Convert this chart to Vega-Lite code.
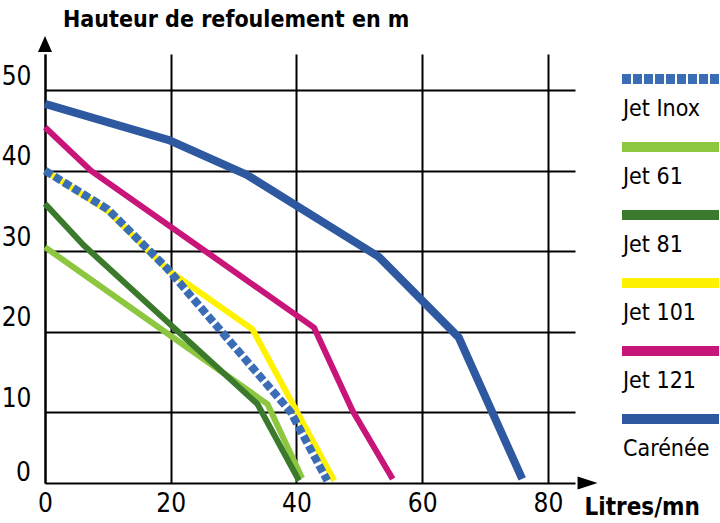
{
  "$schema": "https://vega.github.io/schema/vega-lite/v6.json",
  "background": "white",
  "padding": {"left": 1, "top": 9, "right": 2, "bottom": 0},
  "config": {
    "view": {"stroke": null},
    "font": "DejaVu Sans Condensed, sans-serif"
  },
  "title": {
    "text": "Hauteur de refoulement en m",
    "anchor": "start",
    "frame": "group",
    "dx": 18,
    "fontSize": 23,
    "fontWeight": "bold",
    "color": "black",
    "font": "DejaVu Sans Condensed, sans-serif"
  },
  "datasets": {
    "curves": [
      {"s": "Jet 61", "x": 0, "y": 30.5},
      {"s": "Jet 61", "x": 35.4, "y": 11.0},
      {"s": "Jet 61", "x": 40.9, "y": 1.8},
      {"s": "Jet 81", "x": 0, "y": 35.9},
      {"s": "Jet 81", "x": 6.2, "y": 30.7},
      {"s": "Jet 81", "x": 33.8, "y": 11.0},
      {"s": "Jet 81", "x": 40.4, "y": 1.5},
      {"s": "Jet 121", "x": 0, "y": 45.4},
      {"s": "Jet 121", "x": 7.3, "y": 40.0},
      {"s": "Jet 121", "x": 42.8, "y": 20.5},
      {"s": "Jet 121", "x": 48.9, "y": 10.2},
      {"s": "Jet 121", "x": 55.3, "y": 1.7},
      {"s": "Carénée", "x": 0, "y": 48.3},
      {"s": "Carénée", "x": 19.7, "y": 43.8},
      {"s": "Carénée", "x": 32.1, "y": 39.5},
      {"s": "Carénée", "x": 53.1, "y": 29.3},
      {"s": "Carénée", "x": 65.8, "y": 19.3},
      {"s": "Carénée", "x": 75.9, "y": 1.7},
      {"s": "Jet 101", "x": 0, "y": 40.0},
      {"s": "Jet 101", "x": 10, "y": 35.0},
      {"s": "Jet 101", "x": 19.5, "y": 27.7},
      {"s": "Jet 101", "x": 33.0, "y": 20.3},
      {"s": "Jet 101", "x": 46.0, "y": 1.5},
      {"s": "Jet Inox", "x": 0, "y": 40.0},
      {"s": "Jet Inox", "x": 10, "y": 35.2},
      {"s": "Jet Inox", "x": 19.5, "y": 27.8},
      {"s": "Jet Inox", "x": 39.1, "y": 10.0},
      {"s": "Jet Inox", "x": 44.9, "y": 1.5}
    ],
    "series": [
      {"s": "Jet Inox"},
      {"s": "Jet 61"},
      {"s": "Jet 81"},
      {"s": "Jet 101"},
      {"s": "Jet 121"},
      {"s": "Carénée"}
    ]
  },
  "bounds": "flush",
  "spacing": 47,
  "resolve": {"scale": {"x": "independent", "y": "independent"}},
  "hconcat": [
    {
      "width": 530,
      "height": 429,
      "data": {"name": "curves"},
      "layer": [
        {
          "transform": [{"filter": {"field": "s", "oneOf": ["Jet 61", "Jet 81", "Jet 121"]}}],
          "mark": {"type": "line", "strokeWidth": 6, "strokeJoin": "miter", "strokeCap": "butt"},
          "encoding": {
            "x": {
              "field": "x", "type": "quantitative",
              "scale": {"domain": [0, 84.3], "nice": false, "zero": false},
              "axis": {
                "values": [0, 20, 40, 60, 80],
                "grid": true, "gridColor": "black", "gridWidth": 2, "gridOpacity": 1,
                "domainColor": "black", "domainWidth": 2,
                "ticks": false,
                "labelFontSize": 26, "labelColor": "black", "labelPadding": 7,
                "labelFlush": false, "labelOverlap": false,
                "title": "Litres/mn",
                "titleFontSize": 24, "titleFontWeight": "bold", "titleColor": "black",
                "titleX": 539, "titleY": 31, "titleAlign": "left", "titleBaseline": "alphabetic", "titleAnchor": "start"
              }
            },
            "y": {
              "field": "y", "type": "quantitative",
              "scale": {"domain": [1.2, 54.5], "nice": false, "zero": false},
              "axis": {
                "values": [10, 20, 30, 40, 50],
                "grid": true, "gridColor": "black", "gridWidth": 2, "gridOpacity": 1,
                "domainColor": "black", "domainWidth": 2,
                "ticks": false,
                "labelFontSize": 26, "labelColor": "black", "labelPadding": 14, "labelOffset": -14,
                "labelFlush": false, "labelOverlap": false,
                "title": null
              }
            },
            "color": {
              "field": "s", "type": "nominal",
              "scale": {
                "domain": ["Jet Inox", "Jet 61", "Jet 81", "Jet 101", "Jet 121", "Carénée"],
                "range": ["#3A6DB5", "#8DC63F", "#3B7A2C", "#FFF200", "#C8157A", "#2E58A0"]
              },
              "legend": null
            }
          }
        },
        {
          "transform": [{"filter": {"field": "s", "equal": "Carénée"}}],
          "mark": {"type": "line", "strokeWidth": 8, "strokeJoin": "miter", "strokeCap": "butt"},
          "encoding": {
            "x": {"field": "x", "type": "quantitative"},
            "y": {"field": "y", "type": "quantitative"},
            "color": {"field": "s", "type": "nominal", "legend": null}
          }
        },
        {
          "transform": [{"filter": {"field": "s", "equal": "Jet 101"}}],
          "mark": {"type": "line", "strokeWidth": 6, "strokeJoin": "miter", "strokeCap": "butt"},
          "encoding": {
            "x": {"field": "x", "type": "quantitative"},
            "y": {"field": "y", "type": "quantitative"},
            "color": {"field": "s", "type": "nominal", "legend": null}
          }
        },
        {
          "transform": [{"filter": {"field": "s", "equal": "Jet Inox"}}],
          "mark": {"type": "line", "strokeWidth": 8, "strokeDash": [8, 3], "strokeJoin": "miter", "strokeCap": "butt"},
          "encoding": {
            "x": {"field": "x", "type": "quantitative"},
            "y": {"field": "y", "type": "quantitative"},
            "color": {"field": "s", "type": "nominal", "legend": null}
          }
        },
        {
          "data": {"values": [{"v": 0}]},
          "mark": {"type": "text", "align": "right", "baseline": "middle", "dx": -14, "dy": -20, "fontSize": 26, "color": "black"},
          "encoding": {
            "x": {"datum": 0, "type": "quantitative"},
            "y": {"field": "v", "type": "quantitative"},
            "text": {"field": "v", "type": "quantitative"}
          }
        },
        {
          "data": {"values": [{}]},
          "mark": {"type": "point", "shape": "M0,-1L0.875,1L-0.875,1Z", "filled": true, "color": "black", "opacity": 1, "size": 256, "strokeWidth": 0},
          "encoding": {
            "x": {"datum": 0, "type": "quantitative"},
            "y": {"datum": 55.74, "type": "quantitative"}
          }
        },
        {
          "data": {"values": [{}]},
          "mark": {"type": "point", "shape": "M1.25,0L-1.25,0.8L-1.25,-0.8Z", "filled": true, "color": "black", "opacity": 1, "size": 256, "strokeWidth": 0},
          "encoding": {
            "x": {"datum": 86.3, "type": "quantitative"},
            "y": {"datum": 1.2, "type": "quantitative"}
          }
        }
      ]
    },
    {
      "width": 97,
      "height": 390,
      "data": {"name": "series"},
      "layer": [
        {
          "transform": [{"filter": {"field": "s", "equal": "Jet Inox"}}],
          "mark": {"type": "rule", "strokeWidth": 10, "strokeCap": "butt", "strokeDash": [9, 2]},
          "encoding": {
            "x": {"datum": 0, "type": "quantitative", "scale": {"domain": [0, 1], "nice": false, "zero": false}, "axis": null},
            "x2": {"datum": 1},
            "y": {
              "field": "s", "type": "nominal",
              "scale": {"type": "point", "domain": ["Jet Inox", "Jet 61", "Jet 81", "Jet 101", "Jet 121", "Carénée"], "padding": 0.3676},
              "axis": null
            },
            "color": {"field": "s", "type": "nominal", "legend": null}
          }
        },
        {
          "transform": [{"filter": {"field": "s", "oneOf": ["Jet 61", "Jet 81", "Jet 101", "Jet 121", "Carénée"]}}],
          "mark": {"type": "rule", "strokeWidth": 10, "strokeCap": "butt"},
          "encoding": {
            "x": {"datum": 0, "type": "quantitative"},
            "x2": {"datum": 1},
            "y": {"field": "s", "type": "nominal"},
            "color": {"field": "s", "type": "nominal", "legend": null}
          }
        },
        {
          "mark": {"type": "text", "align": "left", "baseline": "alphabetic", "dx": 1, "dy": 37, "fontSize": 23, "color": "black"},
          "encoding": {
            "x": {"datum": 0, "type": "quantitative"},
            "y": {"field": "s", "type": "nominal"},
            "text": {"field": "s", "type": "nominal"}
          }
        }
      ]
    }
  ]
}
